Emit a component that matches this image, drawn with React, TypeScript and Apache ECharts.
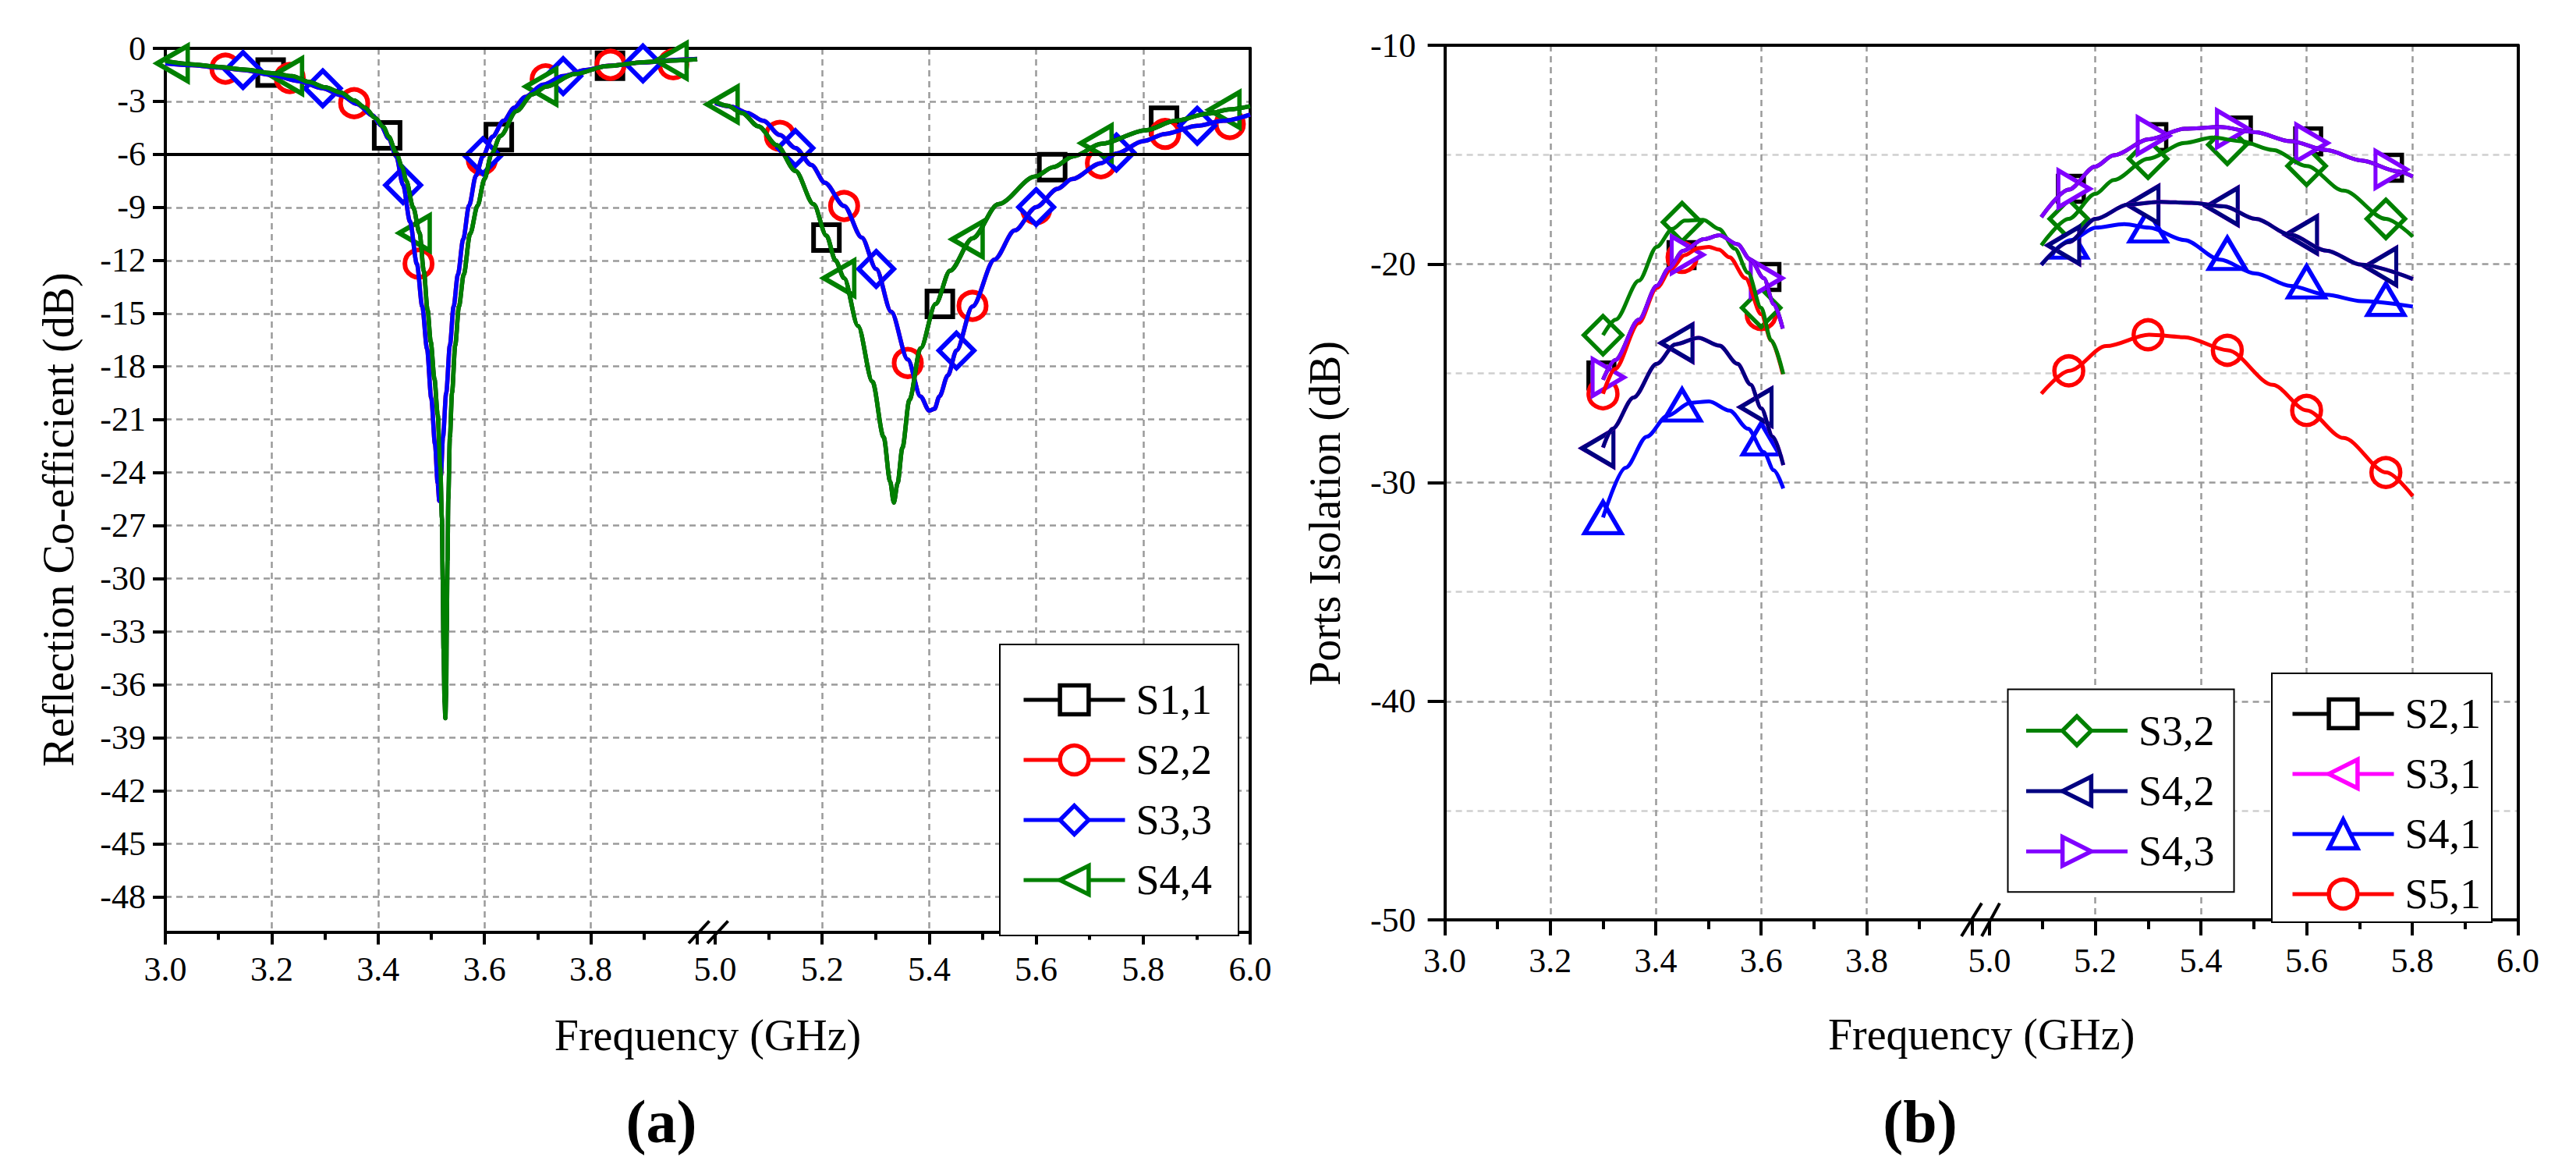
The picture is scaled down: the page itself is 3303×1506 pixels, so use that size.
import React, { useEffect, useRef } from "react";
import * as echarts from "echarts";

const FONT = "'Liberation Serif', 'Times New Roman', Times, serif";

// ---------------- colours ----------------
const C_BLACK = "#000000";
const C_RED = "#ff0000";
const C_BLUE = "#0000ff";
const C_GREEN = "#008000";
const C_NAVY = "#000080";
const C_MAGENTA = "#ff00ff";
const C_VIOLET = "#8000ff";

// ================= (a) Reflection coefficient [GHz, dB] =================
// S4,4 (green) – left band
const S44_LEFT = [
  [3.0, -0.72], [3.05, -0.9], [3.1, -1.05], [3.15, -1.2], [3.2, -1.4], [3.238, -1.57],
  [3.27, -1.9], [3.3, -2.2], [3.33, -2.5], [3.355, -2.95], [3.375, -3.35], [3.395, -3.95],
  [3.41, -4.45], [3.42, -5.0], [3.434, -5.91], [3.445, -6.7], [3.453, -7.49], [3.466, -9.0],
  [3.478, -10.45], [3.486, -12.6], [3.493, -14.8], [3.499, -16.6], [3.506, -18.7],
  [3.512, -20.7], [3.517, -23.7], [3.52, -26.6], [3.5215, -30], [3.523, -34], [3.525, -37],
  [3.5265, -37.9], [3.528, -36.5], [3.529, -33], [3.5305, -29], [3.532, -25.5], [3.535, -22],
  [3.539, -19.5], [3.545, -16.8], [3.552, -14.6], [3.561, -12.8], [3.573, -10.5],
  [3.587, -8.9], [3.6, -7.4], [3.613, -6.0], [3.63, -4.95], [3.66, -3.55], [3.69, -2.6],
  [3.716, -2.16], [3.77, -1.45], [3.83, -1.0], [3.9, -0.78], [3.961, -0.68], [4.0, -0.62],
];
// S4,4 (green) – right band
const S44_RIGHT = [
  [5.0, -3.0], [5.023, -3.25], [5.05, -3.65], [5.081, -4.42], [5.115, -5.47], [5.15, -6.93],
  [5.184, -8.82], [5.208, -10.6], [5.225, -12.0], [5.241, -13.0], [5.267, -15.7],
  [5.294, -18.86], [5.315, -22.0], [5.327, -24.5], [5.334, -25.7], [5.341, -24.6],
  [5.35, -22.6], [5.363, -19.9], [5.384, -16.97], [5.412, -14.46], [5.439, -12.58],
  [5.481, -10.75], [5.529, -8.82], [5.598, -7.25], [5.632, -6.72], [5.67, -6.1],
  [5.722, -5.4], [5.805, -4.63], [5.86, -4.1], [5.922, -3.69], [5.961, -3.45], [6.0, -3.27],
];
// S3,3 (blue) – left band
const S33_LEFT = [
  [3.0, -0.85], [3.05, -0.95], [3.1, -1.08], [3.146, -1.22], [3.2, -1.5], [3.25, -1.85],
  [3.296, -2.26], [3.33, -2.65], [3.36, -3.15], [3.39, -3.8], [3.405, -4.35], [3.42, -5.1],
  [3.434, -6.1], [3.447, -7.74], [3.46, -9.8], [3.473, -12.2], [3.483, -14.6], [3.492, -17],
  [3.5, -19.8], [3.507, -22.4], [3.512, -24.6], [3.515, -25.6], [3.518, -24.2], [3.522, -22],
  [3.528, -19.5], [3.535, -16.8], [3.542, -14.6], [3.55, -12.8], [3.56, -10.8],
  [3.571, -8.9], [3.584, -7.2], [3.597, -6.1], [3.615, -5.0], [3.636, -4.1], [3.656, -3.35],
  [3.676, -2.75], [3.71, -2.05], [3.748, -1.57], [3.79, -1.22], [3.833, -0.98],
  [3.898, -0.8], [3.96, -0.65], [4.0, -0.6],
];
// S3,3 (blue) – right band
const S33_RIGHT = [
  [5.0, -3.1], [5.03, -3.3], [5.06, -3.65], [5.09, -4.1], [5.121, -4.9], [5.15, -5.64],
  [5.18, -6.6], [5.205, -7.6], [5.241, -8.92], [5.274, -10.7], [5.301, -12.48],
  [5.329, -14.9], [5.36, -17.6], [5.384, -19.7], [5.4, -20.5], [5.41, -20.4], [5.419, -19.7],
  [5.435, -18.5], [5.451, -17.1], [5.481, -14.6], [5.522, -11.95], [5.56, -10.3],
  [5.6, -8.98], [5.64, -7.95], [5.667, -7.4], [5.721, -6.5], [5.75, -5.95], [5.8, -5.25],
  [5.841, -4.84], [5.901, -4.38], [5.95, -4.1], [6.0, -3.75],
];
// S1,1 runs underneath S4,4 and S2,2 underneath S3,3 (traced along their markers)
const S11_LEFT = S44_LEFT;
const S11_RIGHT = S44_RIGHT;
const S22_LEFT = S33_LEFT;
const S22_RIGHT = S33_RIGHT;

// marker positions (a)
const S11_MARK_L = [[3.198, -1.37], [3.417, -4.92], [3.627, -5.02], [3.836, -0.98]];
const S11_MARK_R = [[5.208, -10.7], [5.42, -14.46], [5.63, -6.72], [5.839, -4.1]];
const S22_MARK_L = [[3.113, -1.15], [3.234, -1.68], [3.355, -3.1], [3.476, -12.18], [3.595, -6.3], [3.715, -1.75], [3.837, -0.93], [3.955, -0.9]];
const S22_MARK_R = [[5.121, -4.95], [5.241, -8.92], [5.36, -17.8], [5.481, -14.57], [5.6, -9.1], [5.721, -6.5], [5.841, -4.84], [5.962, -4.28]];
const S33_MARK_L = [[3.146, -1.22], [3.296, -2.26], [3.447, -7.74], [3.597, -6.1], [3.748, -1.57], [3.898, -0.85]];
const S33_MARK_R = [[5.15, -5.64], [5.301, -12.48], [5.451, -17.1], [5.6, -8.98], [5.75, -5.89], [5.901, -4.38]];
const S44_MARK_L = [[3.023, -0.85], [3.238, -1.57], [3.478, -10.45], [3.716, -2.16], [3.961, -0.7]];
const S44_MARK_R = [[5.023, -3.17], [5.241, -13.0], [5.481, -10.8], [5.722, -5.36], [5.961, -3.48]];
const MATCH_LEVEL = [-6];

// ================= (b) Ports isolation [GHz, dB] =================
const S43_LEFT = [
  [3.3, -25.3], [3.323, -24.4], [3.368, -22.55], [3.402, -21.0], [3.425, -20.2], [3.452, -19.4],
  [3.491, -18.87], [3.521, -18.69], [3.555, -19.1], [3.58, -19.82], [3.605, -20.65],
  [3.624, -21.84], [3.641, -22.96],
];
const S43_RIGHT = [
  [5.098, -17.86], [5.15, -16.6], [5.2, -15.55], [5.235, -15.03], [5.302, -14.3], [5.369, -13.82],
  [5.436, -13.74], [5.503, -13.98], [5.57, -14.39], [5.637, -14.79], [5.704, -15.27],
  [5.771, -15.76], [5.801, -16.0],
];
const S32_LEFT = [
  [3.3, -23.26], [3.324, -22.55], [3.368, -20.77], [3.402, -19.22], [3.432, -18.39], [3.455, -18.02],
  [3.49, -17.98], [3.52, -18.4], [3.55, -19.3], [3.575, -20.4], [3.6, -22.01], [3.619, -23.5],
  [3.642, -25.04],
];
const S32_RIGHT = [
  [5.098, -19.15], [5.15, -17.94], [5.2, -16.8], [5.235, -16.16], [5.3, -15.19], [5.369, -14.47],
  [5.422, -14.22], [5.476, -14.39], [5.536, -14.79], [5.6, -15.52], [5.67, -16.65], [5.75, -17.94],
  [5.801, -18.75],
];
const S42_LEFT = [
  [3.3, -28.4], [3.318, -27.54], [3.358, -26.11], [3.402, -24.57], [3.437, -23.68], [3.481, -23.38],
  [3.521, -23.74], [3.555, -24.57], [3.58, -25.52], [3.6, -26.6], [3.622, -27.9], [3.642, -29.2],
];
const S42_RIGHT = [
  [5.098, -20.04], [5.15, -19.0], [5.201, -17.94], [5.262, -17.29], [5.322, -17.16], [5.382, -17.21],
  [5.444, -17.37], [5.503, -17.94], [5.57, -18.67], [5.637, -19.39], [5.704, -20.04], [5.801, -20.69],
];
const S41_LEFT = [
  [3.3, -31.6], [3.343, -29.32], [3.383, -27.9], [3.422, -26.95], [3.466, -26.35], [3.501, -26.29],
  [3.54, -26.71], [3.575, -27.54], [3.605, -28.61], [3.624, -29.44], [3.642, -30.27],
];
const S41_RIGHT = [
  [5.098, -20.04], [5.154, -18.91], [5.201, -18.34], [5.255, -18.18], [5.302, -18.34], [5.369, -18.91],
  [5.436, -19.8], [5.503, -20.44], [5.57, -21.01], [5.637, -21.41], [5.704, -21.7], [5.801, -21.95],
];
const S51_LEFT = [
  [3.3, -25.94], [3.323, -24.8], [3.368, -22.7], [3.402, -21.1], [3.43, -20.2], [3.455, -19.6],
  [3.481, -19.28], [3.501, -19.22], [3.52, -19.35], [3.54, -19.7], [3.57, -20.65], [3.6, -22.3],
  [3.619, -23.5], [3.641, -25.04],
];
const S51_RIGHT = [
  [5.098, -25.94], [5.151, -24.89], [5.221, -23.76], [5.302, -23.24], [5.369, -23.35], [5.451, -23.95],
  [5.536, -25.53], [5.6, -26.7], [5.67, -27.96], [5.751, -29.54], [5.801, -30.62],
];
// hidden beneath S4,3 / S4,2
const S21_LEFT = S43_LEFT;
const S21_RIGHT = S43_RIGHT;
const S31_LEFT = S42_LEFT;
const S31_RIGHT = S42_RIGHT;

// marker positions (b)
const S21_MARK = [[3.297, -25.1], [3.449, -19.6], [3.61, -20.6], [5.154, -16.57], [5.31, -14.2], [5.47, -13.9], [5.603, -14.4], [5.756, -15.6]];
const S31_MARK = [[3.3, -28.43], [3.45, -23.62], [3.6, -26.55], [5.15, -19.15], [5.3, -17.29], [5.45, -17.37], [5.6, -18.67], [5.75, -20.12]];
const S41_MARK = [[3.3, -31.6], [3.45, -26.45], [3.6, -28.0], [5.15, -19.0], [5.3, -18.26], [5.45, -19.52], [5.6, -20.82], [5.75, -21.62]];
const S51_MARK = [[3.3, -25.94], [3.45, -19.7], [3.6, -22.31], [5.15, -24.89], [5.3, -23.24], [5.45, -23.95], [5.6, -26.7], [5.75, -29.54]];
const S32_MARK = [[3.3, -23.26], [3.45, -18.09], [3.6, -22.01], [5.15, -17.94], [5.3, -15.19], [5.45, -14.55], [5.6, -15.52], [5.75, -17.94]];
const S42_MARK = [[3.3, -28.43], [3.45, -23.62], [3.6, -26.55], [5.15, -19.15], [5.3, -17.29], [5.45, -17.37], [5.6, -18.67], [5.75, -20.12]];
const S43_MARK = [[3.3, -25.19], [3.45, -19.58], [3.6, -20.65], [5.15, -16.57], [5.3, -14.14], [5.45, -13.82], [5.6, -14.47], [5.75, -15.68]];

// ================= helpers =================
const fmt1 = (v: number) => v.toFixed(1);

function curve(name: string, data: number[][], color: string, sym: string, rot: number, xi: number, yi: number, w: number) {
  return {
    type: "line", name, data, xAxisIndex: xi, yAxisIndex: yi,
    smooth: 0.3, smoothMonotone: "x", showSymbol: false,
    symbol: sym, symbolRotate: rot,
    lineStyle: { color, width: w },
    itemStyle: { color: "#fff", borderColor: color, borderWidth: 5 },
    silent: true,
  };
}
function marks(name: string, data: number[][], color: string, sym: string, size: any, rot: number, off: number, xi: number, yi: number, bw: number) {
  return {
    type: "scatter", name, data, xAxisIndex: xi, yAxisIndex: yi,
    symbol: sym, symbolSize: size, symbolRotate: rot, symbolOffset: [off, 0],
    itemStyle: { color: "#fff", borderColor: color, borderWidth: bw, opacity: 1 },
    silent: true,
  };
}
const splitDash = (color: string) => ({ show: true, lineStyle: { color, width: 2.5, type: [8, 6] } });

function frameAxisX(grid: number, position: string, extra: any = {}) {
  return {
    type: "value", gridIndex: grid, position, min: 0, max: 1,
    axisLine: { show: true, onZero: false, lineStyle: { color: "#000", width: 4 } },
    axisTick: { show: false }, axisLabel: { show: false }, splitLine: { show: false },
    ...extra,
  };
}
function segAxisX(grid: number, min: number, max: number, tickLen: number, minorLen: number, margin: number, showMax: boolean) {
  return {
    type: "value", gridIndex: grid, min, max, interval: 0.2,
    axisLine: { show: true, onZero: false, lineStyle: { color: "#000", width: 4 } },
    axisTick: { show: true, inside: false, length: tickLen, lineStyle: { color: "#000", width: 4 } },
    minorTick: { show: true, splitNumber: 2, length: minorLen, lineStyle: { color: "#000", width: 4 } },
    axisLabel: { show: true, formatter: fmt1, fontSize: 44, fontFamily: FONT, color: "#000", margin, showMaxLabel: showMax, showMinLabel: true },
    splitLine: { ...splitDash("#9a9a9a"), showMinLine: false, showMaxLine: false },
  };
}
function hiddenY(grid: number, min: number, max: number) {
  return { type: "value", gridIndex: grid, min, max, show: false, axisLine: { onZero: false } };
}
function frameAxisY(grid: number, min: number, max: number) {
  return {
    type: "value", gridIndex: grid, position: "right", min, max,
    axisLine: { show: true, onZero: false, lineStyle: { color: "#000", width: 4 } },
    axisTick: { show: false }, axisLabel: { show: false }, splitLine: { show: false },
  };
}
function legendItem(name: string, color: string) {
  return { name, itemStyle: { color: "#fff", borderColor: color, borderWidth: 5.5 }, lineStyle: { color, width: 5 } };
}
const legendText = { fontFamily: FONT, fontSize: 54, color: "#000", lineHeight: 46, padding: [0, 0, 0, 9] };

// ================= option =================
function buildOption() {
  const grids = [
    { left: 212, top: 62, width: 1391, height: 1132.6 },   // 0 frame (a)
    { left: 212, top: 62, width: 682, height: 1132.6 },    // 1 (a) 3-4 GHz
    { left: 917, top: 62, width: 686, height: 1132.6 },    // 2 (a) 5-6 GHz
    { left: 1852.6, top: 58, width: 1376, height: 1121 },  // 3 frame (b)
    { left: 1852.6, top: 58, width: 676, height: 1121 },   // 4 (b) 3-4 GHz
    { left: 2551, top: 58, width: 677.6, height: 1121 },   // 5 (b) 5-6 GHz
  ].map((g) => ({ ...g, containLabel: false, outerBoundsMode: "none" }));

  const nameStyle = { fontSize: 56, fontFamily: FONT, color: "#000" };

  const xAxis = [
    frameAxisX(0, "bottom", { name: "Frequency (GHz)", nameLocation: "middle", nameGap: 104, nameTextStyle: nameStyle }),
    frameAxisX(0, "top"),
    segAxisX(1, 3, 4, 16, 10, 26, false),
    segAxisX(2, 5, 6, 16, 10, 26, true),
    frameAxisX(3, "bottom", { name: "Frequency (GHz)", nameLocation: "middle", nameGap: 119, nameTextStyle: nameStyle }),
    frameAxisX(3, "top"),
    segAxisX(4, 3, 4, 20, 12, 30, false),
    segAxisX(5, 5, 6, 20, 12, 30, true),
  ];

  const yAxis = [
    {
      type: "value", gridIndex: 0, position: "left", min: -50, max: 0, minInterval: 3, maxInterval: 3, splitNumber: 17,
      axisLine: { show: true, onZero: false, lineStyle: { color: "#000", width: 4 } },
      axisTick: { show: true, inside: false, length: 16, lineStyle: { color: "#000", width: 4 } },
      axisLabel: { show: true, fontSize: 44, fontFamily: FONT, color: "#000", margin: 25, showMinLabel: false },
      splitLine: splitDash("#9a9a9a"),
    },
    frameAxisY(0, -50, 0),
    hiddenY(1, -50, 0),
    hiddenY(2, -50, 0),
    {
      type: "value", gridIndex: 3, position: "left", min: -50, max: -10, interval: 10,
      axisLine: { show: true, onZero: false, lineStyle: { color: "#000", width: 4 } },
      axisTick: { show: true, inside: false, length: 22, lineStyle: { color: "#000", width: 4 } },
      axisLabel: { show: true, fontSize: 44, fontFamily: FONT, color: "#000", margin: 37 },
      splitLine: splitDash("#9a9a9a"),
      minorTick: { show: false, splitNumber: 2 },
      minorSplitLine: { show: true, lineStyle: { color: "#cfcfcf", width: 2.5, type: [8, 6] } },
    },
    frameAxisY(3, -50, -10),
    hiddenY(4, -50, -10),
    hiddenY(5, -50, -10),
  ];

  const series: any[] = [];
  // -6 dB reference line of (a)
  series.push({
    type: "line", name: "-6 dB", data: [], xAxisIndex: 0, yAxisIndex: 0, silent: true,
    markLine: {
      silent: true, symbol: ["none", "none"], label: { show: false },
      lineStyle: { color: "#000", width: 4, type: "solid" },
      data: MATCH_LEVEL.map((v) => ({ yAxis: v })),
    },
  });

  // (a): draw order S1,1, S2,2, S3,3, S4,4
  const aSpec: any[] = [
    ["S1,1", C_BLACK, "rect", 0, 33, 0, S11_LEFT, S11_RIGHT, S11_MARK_L, S11_MARK_R],
    ["S2,2", C_RED, "circle", 0, 35, 0, S22_LEFT, S22_RIGHT, S22_MARK_L, S22_MARK_R],
    ["S3,3", C_BLUE, "diamond", 0, 45, 0, S33_LEFT, S33_RIGHT, S33_MARK_L, S33_MARK_R],
    ["S4,4", C_GREEN, "triangle", 90, [45, 39], -6.5, S44_LEFT, S44_RIGHT, S44_MARK_L, S44_MARK_R],
  ];
  aSpec.forEach(([name, c, sym, rot, size, off, l, r, ml, mr]) => {
    series.push(curve(name, l, c, sym, rot, 2, 2, 5.5));
    series.push(curve(name, r, c, sym, rot, 3, 3, 5.5));
    series.push(marks(name, ml, c, sym, size, rot, off, 2, 2, 6));
    series.push(marks(name, mr, c, sym, size, rot, off, 3, 3, 6));
  });

  // (b): draw order so that hidden traces sit underneath
  const bSpec: any[] = [
    ["S2,1", C_BLACK, "rect", 0, 33, 0, S21_LEFT, S21_RIGHT, S21_MARK],
    ["S3,1", C_MAGENTA, "triangle", 90, [47, 40], -6.7, S31_LEFT, S31_RIGHT, S31_MARK],
    ["S4,1", C_BLUE, "triangle", 0, [47, 40], 0, S41_LEFT, S41_RIGHT, S41_MARK],
    ["S5,1", C_RED, "circle", 0, 37, 0, S51_LEFT, S51_RIGHT, S51_MARK],
    ["S3,2", C_GREEN, "diamond", 0, 49, 0, S32_LEFT, S32_RIGHT, S32_MARK],
    ["S4,2", C_NAVY, "triangle", 90, [47, 40], -6.7, S42_LEFT, S42_RIGHT, S42_MARK],
    ["S4,3", C_VIOLET, "triangle", -90, [47, 40], 6.7, S43_LEFT, S43_RIGHT, S43_MARK],
  ];
  bSpec.forEach(([name, c, sym, rot, size, off, l, r, m]) => {
    series.push(curve(name, l, c, sym, rot, 6, 6, 5));
    series.push(curve(name, r, c, sym, rot, 7, 7, 5));
    series.push(marks(name, m.filter((p: number[]) => p[0] < 4.5), c, sym, size, rot, off, 6, 6, 5.5));
    series.push(marks(name, m.filter((p: number[]) => p[0] > 4.5), c, sym, size, rot, off, 7, 7, 5.5));
  });

  const legendBase = {
    orient: "vertical", itemWidth: 130, itemHeight: 46, selectedMode: false,
    backgroundColor: "#fff", borderColor: "#000", borderWidth: 2, borderRadius: 0,
    textStyle: legendText, symbolRotate: "inherit",
  };
  const legend = [
    {
      ...legendBase, left: 1282, top: 826, itemGap: 23, padding: [44, 34, 44, 28],
      data: [legendItem("S1,1", C_BLACK), legendItem("S2,2", C_RED), legendItem("S3,3", C_BLUE), legendItem("S4,4", C_GREEN)],
    },
    {
      ...legendBase, left: 2574.5, top: 883.6, itemGap: 23.3, padding: [26, 25, 25, 21],
      data: [legendItem("S3,2", C_GREEN), legendItem("S4,2", C_NAVY), legendItem("S4,3", C_VIOLET)],
    },
    {
      ...legendBase, left: 2913, top: 862.9, itemGap: 23, padding: [25, 14, 9, 24],
      data: [legendItem("S2,1", C_BLACK), legendItem("S3,1", C_MAGENTA), legendItem("S4,1", C_BLUE), legendItem("S5,1", C_RED)],
    },
  ];

  const brk = (x1: number, y1: number, x2: number, y2: number) => ({
    type: "line", silent: true, z: 100,
    shape: { x1, y1, x2, y2 }, style: { stroke: "#000", lineWidth: 4 },
  });
  const graphic = [
    {
      type: "text", x: 75, y: 666, rotation: Math.PI / 2, silent: true,
      style: { text: "Reflection Co-efficient (dB)", fontSize: 56, fontFamily: FONT, fill: "#000", align: "center", verticalAlign: "middle" },
    },
    {
      type: "text", x: 1699, y: 658, rotation: Math.PI / 2, silent: true,
      style: { text: "Ports Isolation (dB)", fontSize: 56, fontFamily: FONT, fill: "#000", align: "center", verticalAlign: "middle" },
    },
    {
      type: "text", x: 848, y: 1437, silent: true,
      style: { text: "(a)", fontSize: 78, fontWeight: "bold", fontFamily: FONT, fill: "#000", align: "center", verticalAlign: "middle" },
    },
    {
      type: "text", x: 2462, y: 1437, silent: true,
      style: { text: "(b)", fontSize: 78, fontWeight: "bold", fontFamily: FONT, fill: "#000", align: "center", verticalAlign: "middle" },
    },
    brk(883, 1209, 909.5, 1180.5),
    brk(907, 1209, 933.5, 1180.5),
    brk(2515, 1200, 2541, 1157.6),
    brk(2541, 1200, 2564, 1157.6),
  ];

  return {
    animation: false,
    backgroundColor: "#fff",
    textStyle: { fontFamily: FONT },
    grid: grids,
    xAxis,
    yAxis,
    legend,
    series,
    graphic,
  };
}

export default function App() {
  const ref = useRef<HTMLDivElement>(null);
  useEffect(() => {
    document.body.style.margin = "0";
    const chart = echarts.init(ref.current!, null, { renderer: "svg" });
    chart.setOption(buildOption() as any);
    return () => chart.dispose();
  }, []);
  return <div ref={ref} style={{ width: 3303, height: 1506 }} />;
}
